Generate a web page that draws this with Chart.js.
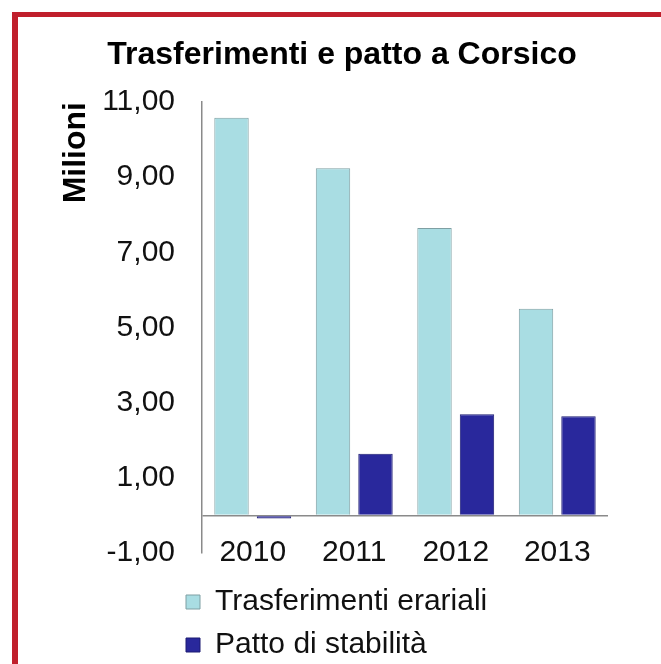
<!DOCTYPE html>
<html>
<head>
<meta charset="utf-8">
<script src="https://cdn.jsdelivr.net/npm/chart.js@4/dist/chart.umd.min.js"></script>
<style>
  html, body { margin: 0; padding: 0; background: #ffffff; }
  #wrap { position: relative; width: 661px; height: 664px; overflow: hidden; }
  #frame { position: absolute; left: 12px; top: 12px; width: 700px; height: 700px;
           border-left: 6px solid #c01f2c; border-top: 5px solid #c01f2c; pointer-events: none; }
  canvas { position: absolute; left: 0; top: 0; }
</style>
</head>
<body>
<div id="wrap">
  <canvas id="c" width="661" height="664"></canvas>
  <div id="frame"></div>
</div>
<script>
// ---- data ----
const chartTitle = 'Trasferimenti e patto a Corsico';
const yAxisTitle = 'Milioni';
const categories = ['2010', '2011', '2012', '2013'];
const seriesNames = ['Trasferimenti erariali', 'Patto di stabilità'];
const trasferimenti = [10.58, 9.24, 7.65, 5.50];
const patto = [-0.08, 1.64, 2.69, 2.64];
const yTickValues = [-1, 1, 3, 5, 7, 9, 11];
const yMin = -1;
const yMax = 11;
const baselineValue = 0;

const FONT = '"Liberation Sans", Arial, Helvetica, sans-serif';

const legendShift = {
  id: 'legendShift',
  afterLayout(chart, args, opts) {
    const lg = chart.legend;
    if (lg) { lg.left += opts.dx; lg.right += opts.dx; }
  }
};

const fmt = v => Number(v).toFixed(2).replace('.', ',');

new Chart(document.getElementById('c'), {
  type: 'bar',
  data: {
    labels: categories,
    datasets: [
      {
        label: seriesNames[0],
        data: trasferimenti,
        backgroundColor: '#a9dde3',
        borderColor: '#7f9fa3',
        borderWidth: 1,
        categoryPercentage: 0.837,
        barPercentage: 0.81
      },
      {
        label: seriesNames[1],
        data: patto,
        backgroundColor: '#29289c',
        borderColor: '#1c1b72',
        borderWidth: 1,
        categoryPercentage: 0.837,
        barPercentage: 0.81
      }
    ]
  },
  options: {
    responsive: false,
    animation: false,
    devicePixelRatio: 1,
    layout: { padding: { top: 0, left: 76, right: 53, bottom: -6 } },
    scales: {
      x: {
        grid: { display: false, drawTicks: false },
        border: { display: false },
        ticks: {
          mirror: true,
          font: { family: FONT, size: 30, lineHeight: 0.001 },
          color: '#111',
          padding: 0
        },
        title: { display: true, text: '', font: { size: 10 }, padding: { top: 9, bottom: 0 } }
      },
      y: {
        min: yMin,
        max: yMax,
        afterBuildTicks: s => {
          s.ticks = yTickValues.concat([baselineValue]).sort((a, b) => a - b).map(v => ({ value: v }));
        },
        afterFit: s => { s.width = 126; },
        grid: {
          drawTicks: false,
          color: ctx => (ctx.tick && ctx.tick.value === baselineValue) ? '#8a8a8a' : 'rgba(0,0,0,0)',
          lineWidth: 1.5
        },
        border: { display: true, color: '#8a8a8a', width: 1.5 },
        ticks: {
          font: { family: FONT, size: 30 },
          color: '#111',
          padding: 27,
          callback: v => (v === baselineValue ? '' : fmt(v))
        },
        title: {
          display: true,
          text: yAxisTitle,
          align: 'end',
          color: '#000',
          font: { family: FONT, size: 32, weight: 'bold' },
          padding: { top: -19.2, bottom: 0 }
        }
      }
    },
    plugins: {
      title: {
        display: true,
        text: chartTitle,
        color: '#000',
        font: { family: FONT, size: 32, weight: 'bold' },
        padding: { top: 36, bottom: 27.6 }
      },
      legend: {
        position: 'bottom',
        fullSize: false,
        align: 'start',
        labels: {
          font: { family: FONT, size: 30 },
          color: '#111',
          boxWidth: 14,
          boxHeight: 14,
          padding: 13
        }
      },
      legendShift: { dx: -29 },
      tooltip: { enabled: false }
    }
  },
  plugins: [legendShift]
});
</script>
</body>
</html>
